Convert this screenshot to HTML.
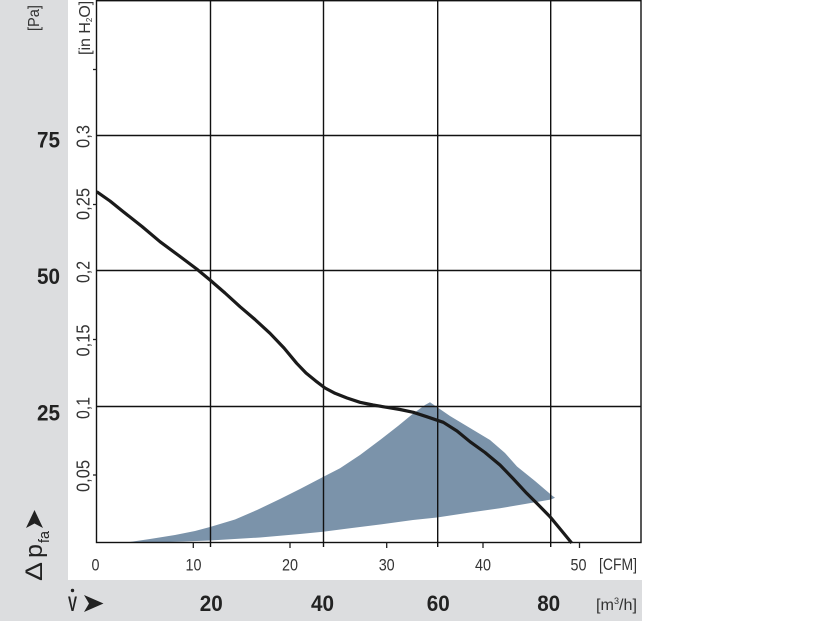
<!DOCTYPE html>
<html><head><meta charset="utf-8"><style>
html,body{margin:0;padding:0;background:#fff;}
svg{display:block;}
text{font-family:"Liberation Sans",sans-serif;}
</style></head><body>
<svg width="816" height="624" viewBox="0 0 816 624" xmlns="http://www.w3.org/2000/svg">
<rect x="0" y="0" width="816" height="624" fill="#fff"/>
<rect x="0" y="0" width="68" height="621" fill="#dcdddf"/>
<rect x="0" y="580" width="642" height="41" fill="#dcdddf"/>

<!-- fill region -->
<path d="M126,542.5 L150,539 L175,535 L195,531 L210,527 L235,519.5 L257,510 L280,499 L300,489 L323,477 L340,468.3 L360,455 L380,440 L398,426 L412,414.5 L425,405 L430,402.3 L450,416 L470,428 L490,440 L505,453 L517,466.5 L535,481 L552,495.5 L555,497.7 L551,499.5 L525,504 L500,508.3 L470,512.5 L437,517.5 L413,520 L380,524.5 L350,528.3 L323,531.7 L300,534 L260,537.5 L210,540.5 L157,542.5 Z" fill="#7b93aa"/>

<!-- grid -->
<g stroke="#111" stroke-width="1.4" fill="none">
<line x1="96" y1="135.5" x2="641" y2="135.5"/>
<line x1="96" y1="270.5" x2="641" y2="270.5"/>
<line x1="96" y1="406.5" x2="641" y2="406.5"/>
<line x1="210.5" y1="0" x2="210.5" y2="547"/>
<line x1="323.5" y1="0" x2="323.5" y2="547"/>
<line x1="437.7" y1="0" x2="437.7" y2="547"/>
<line x1="550.7" y1="0" x2="550.7" y2="547"/>
<rect x="96.5" y="0.7" width="544.5" height="541.8"/>
</g>
<g stroke="#222" stroke-width="1.3">
<line x1="93" y1="69.5" x2="96.5" y2="69.5"/>
<line x1="93" y1="204.5" x2="96.5" y2="204.5"/>
<line x1="93" y1="339.5" x2="96.5" y2="339.5"/>
<line x1="93" y1="475" x2="96.5" y2="475"/>
<line x1="193.3" y1="542.5" x2="193.3" y2="548"/>
<line x1="290" y1="542.5" x2="290" y2="548"/>
<line x1="386.7" y1="542.5" x2="386.7" y2="548"/>
<line x1="483" y1="542.5" x2="483" y2="548"/>
<line x1="579.5" y1="542.5" x2="579.5" y2="548"/>
</g>

<!-- curve -->
<path d="M96.7,191.7 L110,201 L123.3,211.7 L142,226.5 L160,241.7 L178,255 L196.7,269 L210,280 L225,293 L240,306.7 L255,319.5 L270,333.3 L284,348 L296.7,363.3 L306,373 L316.7,381.7 L325,388 L335,393.3 L347,398 L360,402.3 L373,405 L386.7,407.3 L400,409.5 L413.3,412.3 L426.7,416.7 L443.3,422.3 L457,431 L470,441.7 L485,452.5 L500,465 L513,478.5 L526.7,493.3 L538,504.5 L550,516.7 L561,530 L571.7,543" fill="none" stroke="#1a1a1a" stroke-width="3.2" stroke-linejoin="round" stroke-linecap="butt"/>

<!-- Pa labels -->
<g font-size="22" font-weight="bold" fill="#222" text-anchor="end">
<text x="60" y="147.5" textLength="23" lengthAdjust="spacingAndGlyphs">75</text>
<text x="60" y="284" textLength="23" lengthAdjust="spacingAndGlyphs">50</text>
<text x="60" y="420.5" textLength="23" lengthAdjust="spacingAndGlyphs">25</text>
</g>

<!-- inH2O labels -->
<g font-size="18.5" fill="#333" text-anchor="middle">
<text transform="translate(89.5,136.5) rotate(-90)" textLength="23" lengthAdjust="spacingAndGlyphs">0,3</text>
<text transform="translate(89.5,204) rotate(-90)" textLength="32" lengthAdjust="spacingAndGlyphs">0,25</text>
<text transform="translate(89.5,272) rotate(-90)" textLength="22" lengthAdjust="spacingAndGlyphs">0,2</text>
<text transform="translate(89.5,340.5) rotate(-90)" textLength="32" lengthAdjust="spacingAndGlyphs">0,15</text>
<text transform="translate(89.5,408) rotate(-90)" textLength="22" lengthAdjust="spacingAndGlyphs">0,1</text>
<text transform="translate(89.5,476) rotate(-90)" textLength="32" lengthAdjust="spacingAndGlyphs">0,05</text>
</g>

<!-- unit labels on top -->
<text transform="translate(39,31) rotate(-90)" font-size="15.5" fill="#333" textLength="26" lengthAdjust="spacingAndGlyphs">[Pa]</text>
<text transform="translate(90,55) rotate(-90)" font-size="16" fill="#333">[in H<tspan font-size="8" dy="2">2</tspan><tspan dy="-2">O]</tspan></text>

<!-- delta p label -->
<g transform="translate(42,581) rotate(-90)" fill="#222">
<text x="0" y="0" font-size="24" textLength="19" lengthAdjust="spacingAndGlyphs">Δ</text>
<text x="23" y="0" font-size="24" textLength="14" lengthAdjust="spacingAndGlyphs">p</text>
<text x="38" y="7" font-size="15" textLength="12" lengthAdjust="spacingAndGlyphs">fa</text>
</g>
<path d="M34.5,510 L43,528 L34.5,523.5 L26,528 Z" fill="#222"/>

<!-- CFM labels -->
<g font-size="17" fill="#333" text-anchor="middle">
<text x="95.5" y="570.5" textLength="8" lengthAdjust="spacingAndGlyphs">0</text>
<text x="193.5" y="570.5" textLength="16" lengthAdjust="spacingAndGlyphs">10</text>
<text x="290" y="570.5" textLength="16" lengthAdjust="spacingAndGlyphs">20</text>
<text x="386.7" y="570.5" textLength="16" lengthAdjust="spacingAndGlyphs">30</text>
<text x="483" y="570.5" textLength="16" lengthAdjust="spacingAndGlyphs">40</text>
<text x="578.5" y="570.5" textLength="16" lengthAdjust="spacingAndGlyphs">50</text>
</g>
<text x="599" y="570" font-size="16.5" fill="#333" textLength="38" lengthAdjust="spacingAndGlyphs">[CFM]</text>

<!-- m3/h band -->
<text x="68" y="611" font-size="21" font-weight="bold" fill="#222" textLength="9" lengthAdjust="spacingAndGlyphs">V</text>
<circle cx="72.5" cy="590.5" r="1.7" fill="#222"/>
<path d="M84,595 L103.5,603.5 L84,612 L89,603.5 Z" fill="#222"/>
<g font-size="22" font-weight="bold" fill="#222" text-anchor="middle">
<text x="211.3" y="611" textLength="23" lengthAdjust="spacingAndGlyphs">20</text>
<text x="322.5" y="611" textLength="23" lengthAdjust="spacingAndGlyphs">40</text>
<text x="438.3" y="611" textLength="23" lengthAdjust="spacingAndGlyphs">60</text>
<text x="548.7" y="611" textLength="23" lengthAdjust="spacingAndGlyphs">80</text>
</g>
<text x="596" y="610" font-size="16" fill="#333" textLength="41" lengthAdjust="spacingAndGlyphs">[m<tspan font-size="9" dy="-6">3</tspan><tspan dy="6">/h]</tspan></text>
</svg>
</body></html>
